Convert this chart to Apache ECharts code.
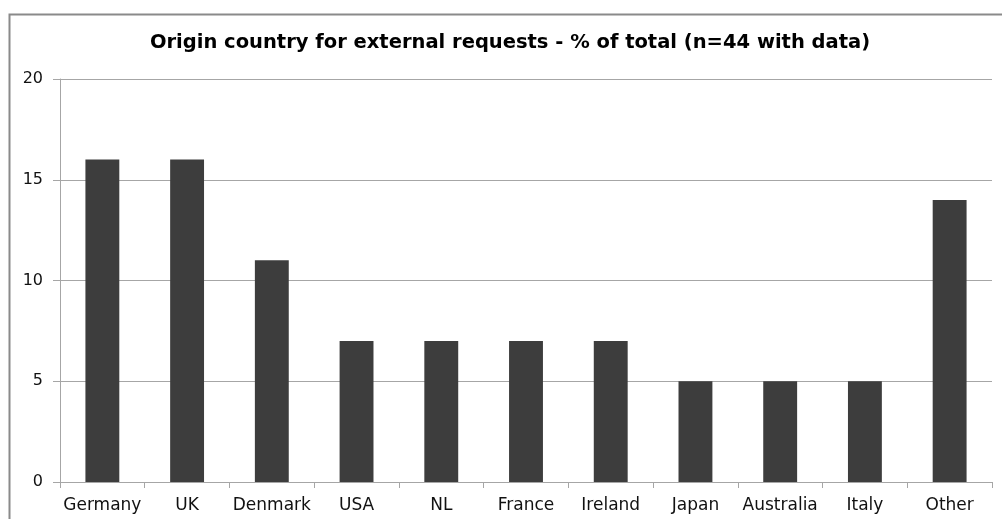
<!DOCTYPE html>
<html>
<head>
<meta charset="utf-8">
<script src="https://cdn.jsdelivr.net/npm/echarts@6/dist/echarts.min.js"></script>
<style>
  html, body { margin: 0; padding: 0; background: #fff; }
  #chart { width: 1002px; height: 519px; }
</style>
</head>
<body>
<div id="chart"></div>
<script>
// Share of external requests by origin country (% of total, n=44 with data)
const countries = ['Germany', 'UK', 'Denmark', 'USA', 'NL', 'France', 'Ireland', 'Japan', 'Australia', 'Italy', 'Other'];
const shares = [16, 16, 11, 7, 7, 7, 7, 5, 5, 5, 14];
const yTicks = [0, 5, 10, 15, 20];
const chartTitle = 'Origin country for external requests - % of total (n=44 with data)';

const font = '"DejaVu Sans", Verdana, sans-serif';
const chart = echarts.init(document.getElementById('chart'), null, { renderer: 'canvas' });

chart.setOption({
  animation: false,
  backgroundColor: '#ffffff',
  graphic: [{
    type: 'rect',
    left: 7, top: 12,
    shape: { width: 1100, height: 600 },
    style: { fill: 'none', stroke: '#8a8a8a', lineWidth: 2 },
    silent: true
  }],
  title: {
    text: chartTitle,
    left: 510, top: 33,
    textAlign: 'center',
    padding: 0,
    textStyle: { fontFamily: font, fontWeight: 'bold', fontSize: 19.5, color: '#000' }
  },
  grid: { left: 60, right: 10, top: 79, bottom: 37, containLabel: false },
  xAxis: {
    type: 'category',
    data: countries,
    axisLine: { lineStyle: { color: '#a6a6a6', width: 1 } },
    axisTick: { show: true, length: 6, lineStyle: { color: '#a6a6a6' } },
    axisLabel: { interval: 0, fontFamily: font, fontSize: 17, color: '#111', margin: 15 }
  },
  yAxis: {
    type: 'value',
    min: yTicks[0],
    max: yTicks[yTicks.length - 1],
    interval: yTicks[1] - yTicks[0],
    axisLine: { show: true, lineStyle: { color: '#a6a6a6', width: 1 } },
    axisTick: { show: true, length: 7, lineStyle: { color: '#a6a6a6' } },
    splitLine: { lineStyle: { color: '#a6a6a6', width: 1 } },
    axisLabel: { fontFamily: font, fontSize: 16, color: '#111', margin: 17 }
  },
  series: [{
    type: 'bar',
    data: shares,
    barWidth: '40%',
    itemStyle: { color: '#3d3d3d' }
  }]
});
</script>
</body>
</html>
